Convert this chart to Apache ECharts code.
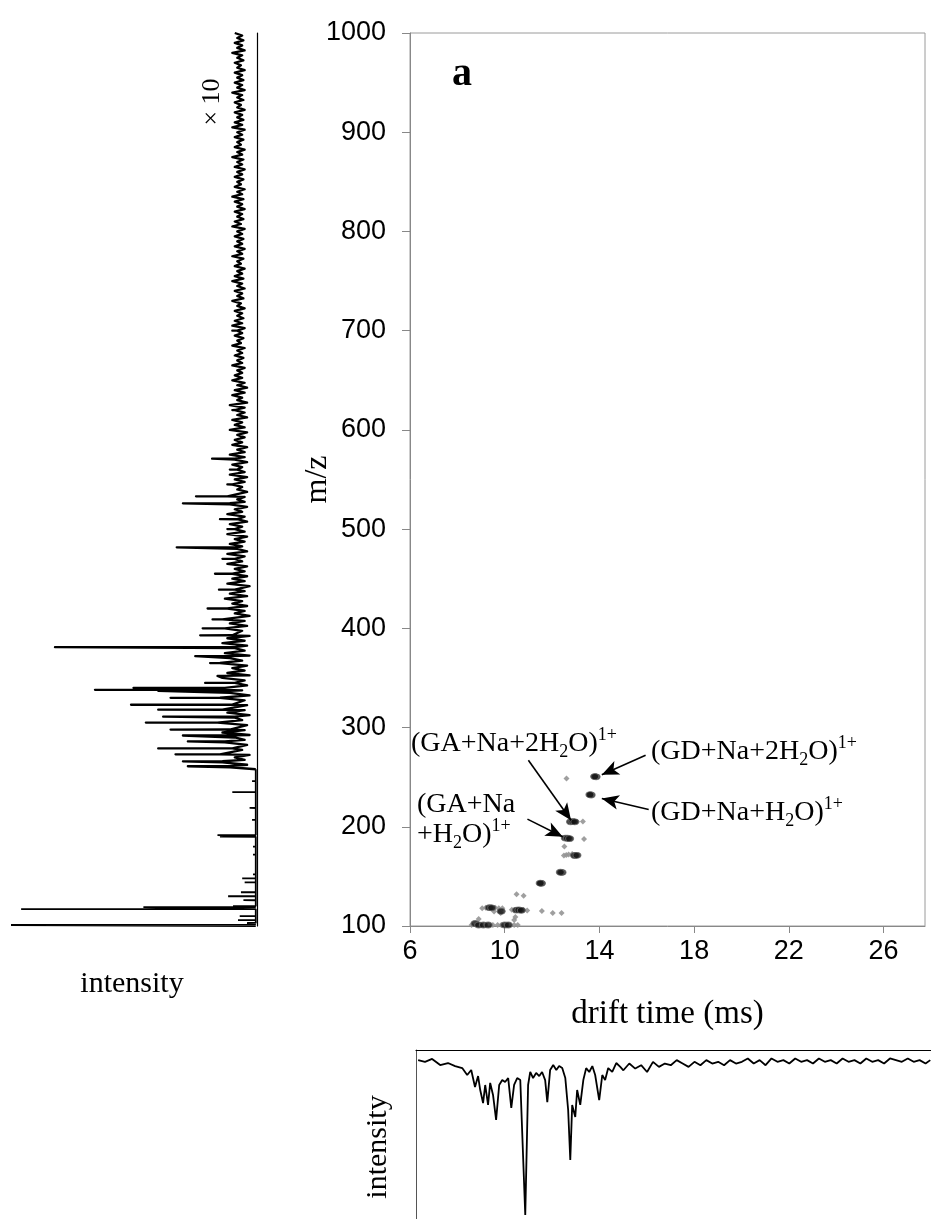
<!DOCTYPE html>
<html><head><meta charset="utf-8">
<script src="https://cdn.jsdelivr.net/npm/echarts@6/dist/echarts.min.js"></script>
<style>html,body{margin:0;padding:0;background:#fff}#c{width:931px;height:1219px}</style>
</head><body><div id="c"></div>
<script>
// ---------- data ----------
const xTicks = [6, 10, 14, 18, 22, 26];
const mzTicks = [100, 200, 300, 400, 500, 600, 700, 800, 900, 1000];

// main 2D plot: [drift time (ms), m/z]
const blackPts = [
  [13.86, 250.3], [13.80, 250.6], [13.65, 232], [13.60, 232.4],
  [12.78, 205], [12.88, 205.2], [12.96, 205],
  [12.56, 188.6], [12.65, 188.4], [12.74, 188],
  [12.95, 171], [13.05, 171.2],
  [12.42, 154], [12.35, 154.2], [11.55, 143], [11.50, 143.2],
  [9.35, 118.5], [9.45, 118.3], [9.85, 114.8],
  [10.50, 116], [10.60, 116.2], [10.70, 115.8],
  [8.75, 102.5], [8.90, 101], [9.10, 101], [9.30, 101], [10.00, 101], [10.15, 101]
];
const grayPts = [
  [12.61, 248.7], [13.05, 205], [13.30, 205.3], [13.35, 187.6], [12.52, 180],
  [12.50, 171], [12.60, 171.5], [12.70, 172], [12.85, 172.5],
  [10.50, 132], [10.80, 130.5],
  [9.05, 118], [9.20, 118.5], [9.60, 118.4], [9.75, 118], [9.90, 118],
  [9.55, 114.5], [9.80, 114], [9.83, 113],
  [10.30, 116.5], [10.40, 115.5], [10.80, 116], [10.95, 115.5],
  [11.57, 115], [12.03, 113], [12.40, 113],
  [8.90, 107], [10.40, 106], [10.45, 109],
  [8.60, 101], [9.50, 101], [9.70, 101], [9.85, 101], [10.40, 101], [10.55, 101]
];
// arrows: [tail, tip] in [drift time, m/z]
const arrowLines = [
  [[11.00, 267], [12.80, 206.5]],
  [[10.96, 207.7], [12.45, 190]],
  [[15.95, 272], [14.10, 252.5]],
  [[16.08, 217.5], [14.10, 228.5]]
];

// left mass spectrum (intensity, arbitrary 0-100), raw region m/z < 258
const lowPeaks = [
  [101, 99.6], [103, 4], [106, 7.7], [110, 7], [117, 95.5], [119, 46], [120, 9.7],
  [126, 5.5], [130, 11.7], [134, 6.5], [144, 5], [148, 6], [152, 1.6], [172, 1.6],
  [180, 1.6], [190, 15], [191.6, 16], [207, 2], [219, 3], [235, 10], [246, 2]
];
// x10 region: noise envelope sampled every 5 m/z starting at 260 (left / right excursions)
const x10Start = 260, x10Step = 5;
const x10Hi = [
  11,14,9,15,10,13,9,14,11,16,9,12,14,10,15,11,13,9,14,12,10,15,11,13,9,14,12,10,13,11,14,9,12,10,13,11,9,12,10,
  10,9,12,9,12,8,11,9,12,9,11,8,12,9,11,8,12,8,10,9,11,8,10,9,11,8,10,9,8,11,9,10,8,9,11,8,10,9,8,10,
  9,8,10,8,9,8,10,8,9,8,10,9,8,9,8,10,8,9,8,10,9,8,9,8,10,8,9,8,9,8,10,9,8,9,8,9,10,8,9,8,9,8,9,8,10,8,9,8,9,8,10,9,8,9,8,9,8,10,8,9,8,9,8,9,8,10,8,9,8,9
];
const x10Lo = [
  4,5,3,6,4,5,3,5,4,6,3,5,4,5,3,6,4,5,3,5,4,6,3,5,4,5,3,6,4,5,3,5,4,6,4,5,3,5,4,
  5,4,6,5,4,6,5,4,5,6,4,5,6,4,5,5,4,6,5,4,5,6,4,5,5,4,6,5,4,5,6,4,5,5,4,6,5,4,5,6,
  6,5,6,5.5,6,5,6.5,5.5,6,5,6,5.5,6,5,6.5,5.5,6,5,6,5.5,6,5,6.5,5.5,6,5,6,5.5,6,5,6.5,5.5,6,5,6,5.5,6,5,6.5,5.5,6,5,6,5.5,6,5,6.5,5.5,6,5,6,5.5,6,5,6.5,5.5,6,5,6,5.5,6,5,6.5,5.5,6,5,6,5.5,6,5
];
const x10Peaks = [
  [261, 28], [266, 30], [273, 33], [279, 40], [286, 28], [292, 30], [298, 35], [305, 45],
  [311, 38], [318, 40], [323, 51], [330, 35], [337, 40], [338, 65.6], [340, 50], [345, 21],
  [352, 16], [365, 19], [372, 25], [381, 81.8], [393, 23], [400, 22], [409, 18], [420, 20],
  [439, 15.4], [455, 17], [470, 14], [481.6, 32.5], [500, 12], [510, 15], [526, 30], [533, 24.7],
  [545, 12], [560, 11], [571, 18.2], [600, 11], [620, 10], [650, 9.5], [700, 10], [750, 9.5]
];

// bottom drift-time spectrum (downward intensity 0-100)
const driftTime = [6.34,6.63,6.93,7.27,7.6,7.9,8.2,8.41,8.58,8.74,8.87,8.96,9.08,9.17,9.29,9.38,9.5,9.63,9.76,9.89,
  10.01,10.14,10.27,10.39,10.52,10.65,10.73,10.86,10.98,11.07,11.19,11.32,11.45,11.57,11.7,11.79,11.91,12.04,12.17,12.29,
  12.42,12.55,12.67,12.76,12.84,12.97,13.05,13.18,13.31,13.43,13.56,13.69,13.81,13.98,14.11,14.23,14.36,14.53,14.7,14.87,
  15.0,15.25,15.5,15.75,16.0,16.25,16.5,16.75,17.0,17.25,17.5,17.75,18.0,18.25,18.5,18.75,19.0,19.25,19.5,19.75,
  20.0,20.25,20.5,20.75,21.0,21.25,21.5,21.75,22.0,22.25,22.5,22.75,23.0,23.25,23.5,23.75,24.0,24.25,24.5,24.75,
  25.0,25.25,25.5,25.75,26.0,26.25,26.5,26.75,27.0,27.25,27.5,27.75,27.95];
const driftInt = [6,7,5.3,8.9,7.7,9.5,10.7,14.8,11.8,21.9,15.4,23.7,31.4,20.7,32.5,19.5,26.6,41.4,20.7,17.8,
  18.9,16.6,34.3,20.7,16.6,17.8,18.9,97.6,20.7,13,16.6,13.6,15.4,13,17.8,30.8,11.8,8.9,11.8,9.5,
  10.7,16.6,35.5,65,32.5,39.6,23.7,32.5,17.8,10.7,13,9.5,14.8,29.6,14.8,17.8,10.7,13,7.7,10,
  12,8,11,9,13,7,10,8,9,6,8,10,7,9,6,8,7,9,6,8,
  7,5,8,6,9,5,7,6,8,5,7,6,8,5,7,6,8,5,7,6,
  8,5,7,6,8,5,6,7,5,7,6,8,6];

// ---------- build ----------
const rawSpec = [];
rawSpec.push([0.5, 100]);
lowPeaks.forEach(p => { rawSpec.push([0.5, p[0] - 0.05], [p[1], p[0]], [0.5, p[0] + 0.05]); });
rawSpec.push([0.5, 258]);
const x10Spec = [];
const nX10 = Math.min(x10Hi.length, x10Lo.length);
for (let i = 0; i < nX10; i++) {
  const mz = x10Start + i * x10Step;
  if (mz > 1000) break;
  x10Spec.push([x10Hi[i], mz]);
  if (mz + x10Step / 2 <= 1000) x10Spec.push([x10Lo[i], mz + x10Step / 2]);
}
const hiAt = mz => x10Hi[Math.min(nX10 - 1, Math.max(0, Math.round((mz - x10Start) / x10Step)))];
x10Peaks.forEach(p => { const b = hiAt(p[0]); x10Spec.push([b, p[0] - 0.05], [p[1], p[0]], [b, p[0] + 0.05]); });
x10Spec.sort((a, b) => a[1] - b[1]);
x10Spec.unshift([0.5, 258]);

const driftData = driftTime.map((t, i) => [t, driftInt[i]]);

const SERIF = '"Liberation Serif","Times New Roman",serif';
const SANS = '"Liberation Sans",Arial,sans-serif';
const rich = {
  n: { fontFamily: SERIF, fontSize: 28, lineHeight: 35, fill: '#000', color: '#000' },
  s: { fontFamily: SERIF, fontSize: 18, lineHeight: 18, verticalAlign: 'bottom', fill: '#000', color: '#000' },
  p: { fontFamily: SERIF, fontSize: 18, lineHeight: 18, verticalAlign: 'top', fill: '#000', color: '#000' }
};
function label(text, x, y) {
  return { type: 'text', x: x, y: y, style: { text: text, rich: rich, textVerticalAlign: 'middle', textAlign: 'left', fill: '#000' }, z: 100 };
}

const chart = echarts.init(document.getElementById('c'), null, { renderer: 'canvas' });
chart.setOption({
  animation: false,
  backgroundColor: '#fff',
  grid: [
    { left: 410, top: 33, width: 515, height: 893, show: true, borderColor: '#9a9a9a', borderWidth: 1 },
    { left: 10, top: 33, width: 247, height: 893 },
    { left: 416, top: 1050, width: 515, height: 169 }
  ],
  xAxis: [
    { gridIndex: 0, type: 'value', min: 6, max: 27.75, interval: 4,
      name: 'drift time (ms)', nameLocation: 'middle', nameGap: 72, nameMoveOverlap: false,
      nameTextStyle: { fontFamily: SERIF, fontSize: 33, color: '#000' },
      axisLine: { show: true, lineStyle: { color: '#888', width: 1 } },
      axisTick: { show: true, length: 7, lineStyle: { color: '#888' }, customValues: xTicks },
      axisLabel: { fontFamily: SANS, fontSize: 27, color: '#000', margin: 12, customValues: xTicks },
      splitLine: { show: false } },
    { gridIndex: 1, type: 'value', min: 0, max: 100, inverse: true, show: false },
    { gridIndex: 2, type: 'value', min: 6.25, max: 27.98, position: 'top',
      axisLine: { show: true, onZero: false, lineStyle: { color: '#000', width: 1.2 } },
      axisTick: { show: false }, axisLabel: { show: false }, splitLine: { show: false } }
  ],
  yAxis: [
    { gridIndex: 0, type: 'value', min: 100, max: 1000, interval: 100,
      name: 'm/z', nameLocation: 'middle', nameGap: 76, nameRotate: 90, nameMoveOverlap: false,
      nameTextStyle: { fontFamily: SERIF, fontSize: 32, color: '#000' },
      axisLine: { show: true, lineStyle: { color: '#888', width: 1 } },
      axisTick: { show: true, length: 8, lineStyle: { color: '#888' } },
      axisLabel: { fontFamily: SANS, fontSize: 27, color: '#000', margin: 24, formatter: v => String(v) },
      splitLine: { show: false } },
    { gridIndex: 1, type: 'value', min: 100, max: 1000, position: 'right',
      axisLine: { show: true, onZero: false, lineStyle: { color: '#000', width: 1.2 } },
      axisTick: { show: false }, axisLabel: { show: false }, splitLine: { show: false } },
    { gridIndex: 2, type: 'value', min: 0, max: 100, inverse: true,
      axisLine: { show: true, onZero: false, lineStyle: { color: '#555', width: 1 } },
      axisTick: { show: false }, axisLabel: { show: false }, splitLine: { show: false } }
  ],
  series: [
    { type: 'scatter', xAxisIndex: 0, yAxisIndex: 0, data: grayPts, symbol: 'diamond', symbolSize: [6, 6],
      itemStyle: { color: '#959595', opacity: 0.9 }, z: 3 },
    { type: 'scatter', xAxisIndex: 0, yAxisIndex: 0, data: blackPts, symbol: 'circle', symbolSize: [8, 6],
      itemStyle: { color: '#111', borderColor: '#666', borderWidth: 1 }, z: 4,
      markLine: { silent: true, symbol: ['none', 'arrow'], symbolSize: [11, 17], label: { show: false },
        lineStyle: { color: '#000', width: 1.6, type: 'solid' },
        data: arrowLines.map(a => [{ coord: a[0] }, { coord: a[1] }]) } },
    { type: 'line', xAxisIndex: 1, yAxisIndex: 1, data: rawSpec, symbol: 'none', showSymbol: false,
      lineStyle: { color: '#000', width: 1.8 }, z: 2 },
    { type: 'line', xAxisIndex: 1, yAxisIndex: 1, data: x10Spec, symbol: 'none', showSymbol: false,
      lineStyle: { color: '#000', width: 2.3, join: 'round' }, z: 2 },
    { type: 'line', xAxisIndex: 2, yAxisIndex: 2, data: driftData, symbol: 'none', showSymbol: false,
      lineStyle: { color: '#000', width: 1.8 }, z: 2 }
  ],
  graphic: [
    { type: 'text', x: 462, y: 75, style: { text: 'a', font: 'bold 40px ' + SERIF, fill: '#000', textAlign: 'center', textVerticalAlign: 'middle' } },
    label('{n|(GA+Na+2H}{s|2}{n|O)}{p|1+}', 411, 744),
    label('{n|(GA+Na}', 417, 805),
    label('{n|+H}{s|2}{n|O)}{p|1+}', 417, 835),
    label('{n|(GD+Na+2H}{s|2}{n|O)}{p|1+}', 651, 752),
    label('{n|(GD+Na+H}{s|2}{n|O)}{p|1+}', 651, 813),
    { type: 'text', x: 212, y: 102, rotation: Math.PI / 2, style: { text: '× 10', font: '26px ' + SERIF, fill: '#000', textAlign: 'center', textVerticalAlign: 'middle' } },
    { type: 'text', x: 132, y: 984, style: { text: 'intensity', font: '30px ' + SERIF, fill: '#000', textAlign: 'center', textVerticalAlign: 'middle' } },
    { type: 'text', x: 378, y: 1147, rotation: Math.PI / 2, style: { text: 'intensity', font: '30px ' + SERIF, fill: '#000', textAlign: 'center', textVerticalAlign: 'middle' } }
  ]
});
</script></body></html>
